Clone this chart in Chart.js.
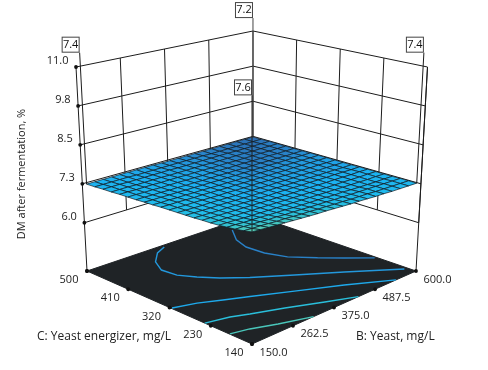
<!DOCTYPE html>
<html><head><meta charset="utf-8"><style>html,body{margin:0;padding:0;background:#fff}canvas{display:block}</style>
<script src="https://cdn.jsdelivr.net/npm/chart.js@4"></script></head><body>
<canvas id="c" width="488" height="370"></canvas>
<script>
const bTicks=[150,262.5,375,487.5,600];
const cTicks=[140,230,320,410,500];
const zTicks=[6,7.25,8.5,9.75,11];
const zTickText=['6.0','7.3','8.5','9.8','11.0'];
const zFloor=4.45, zTop=11, stemTopZ=11.46;
const bTitle='B: Yeast, mg/L', cTitle='C: Yeast energizer, mg/L', zTitle='DM after fermentation, %';
const cornerB=[150,600,150,600];
const cornerC=[500,500,140,140];
const cornerText=['7.4','7.2','7.6','7.4'];
// surface values: one row per yeast-energizer step (140..500), one column per yeast step (150..600)
const zGrid=[
[7.61,7.59,7.57,7.55,7.53,7.51,7.49,7.47,7.45,7.44,7.42,7.40,7.38,7.37,7.35,7.33,7.32,7.30,7.29,7.28,7.27],
[7.56,7.54,7.53,7.51,7.49,7.48,7.46,7.44,7.43,7.41,7.40,7.38,7.37,7.35,7.34,7.33,7.31,7.30,7.29,7.28,7.27],
[7.52,7.51,7.49,7.48,7.46,7.45,7.43,7.42,7.41,7.39,7.38,7.37,7.35,7.34,7.33,7.32,7.31,7.30,7.29,7.28,7.27],
[7.49,7.48,7.46,7.45,7.44,7.42,7.41,7.40,7.38,7.37,7.36,7.35,7.34,7.32,7.32,7.30,7.29,7.28,7.27,7.27,7.26],
[7.46,7.45,7.44,7.42,7.41,7.40,7.39,7.38,7.37,7.36,7.35,7.34,7.33,7.32,7.31,7.30,7.29,7.28,7.27,7.27,7.26],
[7.44,7.43,7.42,7.41,7.40,7.39,7.38,7.37,7.36,7.35,7.34,7.33,7.32,7.31,7.30,7.29,7.29,7.28,7.27,7.27,7.26],
[7.43,7.42,7.41,7.40,7.39,7.38,7.37,7.36,7.35,7.34,7.33,7.32,7.32,7.31,7.30,7.29,7.29,7.28,7.27,7.27,7.26],
[7.41,7.40,7.39,7.38,7.38,7.37,7.36,7.35,7.34,7.33,7.33,7.32,7.31,7.30,7.30,7.29,7.28,7.28,7.27,7.26,7.26],
[7.40,7.39,7.38,7.37,7.37,7.36,7.35,7.34,7.33,7.32,7.32,7.31,7.30,7.29,7.29,7.28,7.27,7.27,7.26,7.25,7.25],
[7.39,7.38,7.37,7.36,7.36,7.35,7.34,7.33,7.33,7.32,7.31,7.30,7.30,7.29,7.28,7.28,7.27,7.26,7.26,7.25,7.25],
[7.38,7.37,7.36,7.36,7.35,7.34,7.33,7.33,7.32,7.31,7.31,7.30,7.29,7.29,7.28,7.27,7.27,7.26,7.26,7.25,7.25],
[7.37,7.36,7.36,7.35,7.34,7.34,7.33,7.32,7.31,7.31,7.30,7.30,7.29,7.28,7.28,7.27,7.27,7.26,7.26,7.25,7.25],
[7.35,7.34,7.34,7.33,7.33,7.32,7.32,7.31,7.30,7.30,7.29,7.29,7.28,7.28,7.27,7.27,7.27,7.26,7.26,7.25,7.25],
[7.34,7.33,7.33,7.32,7.32,7.31,7.31,7.30,7.30,7.29,7.29,7.28,7.28,7.28,7.27,7.27,7.26,7.26,7.26,7.25,7.25],
[7.32,7.32,7.31,7.31,7.30,7.30,7.29,7.29,7.28,7.28,7.28,7.27,7.27,7.26,7.26,7.26,7.25,7.25,7.24,7.24,7.24],
[7.31,7.31,7.30,7.30,7.29,7.29,7.29,7.28,7.28,7.27,7.27,7.27,7.26,7.26,7.26,7.25,7.25,7.25,7.24,7.24,7.24],
[7.30,7.30,7.29,7.29,7.29,7.28,7.28,7.28,7.27,7.27,7.27,7.26,7.26,7.26,7.25,7.25,7.25,7.25,7.24,7.24,7.24],
[7.28,7.28,7.28,7.27,7.27,7.27,7.27,7.26,7.26,7.26,7.26,7.26,7.25,7.25,7.25,7.25,7.25,7.24,7.24,7.24,7.24],
[7.27,7.27,7.27,7.26,7.26,7.26,7.26,7.26,7.26,7.25,7.25,7.25,7.25,7.25,7.25,7.25,7.24,7.24,7.24,7.24,7.24],
[7.25,7.25,7.25,7.25,7.25,7.24,7.24,7.24,7.24,7.24,7.24,7.24,7.24,7.24,7.23,7.23,7.23,7.23,7.23,7.23,7.23],
[7.24,7.24,7.24,7.24,7.24,7.24,7.24,7.24,7.24,7.23,7.23,7.23,7.23,7.23,7.23,7.23,7.23,7.23,7.23,7.23,7.23]
];
// contour lines on the floor
const contourLevels=[7.26,7.29,7.32,7.46,7.55];
const contourB=[
[513,481,468,471,488,524,558,596],
[352,320,285,265,270,292,321,364,433,508,593],
[152,204,251,300,378,463,545],
[150,205,242,309,381,442],
[151,194,248,319]
];
const contourC=[
[475,440,408,370,333,296,264,228],
[494,483,459,430,400,374,347,316,273,224,160],
[316,303,284,264,229,188,140],
[243,232,218,195,165,140],
[189,180,161,140]
];
const rampZ=[7.23,7.27,7.30,7.34,7.42,7.47,7.54,7.61];
const rampRGB=[[44,111,180],[40,135,205],[33,160,228],[28,178,242],[32,188,235],[45,192,215],[70,198,190],[100,205,170]];

// view of the data cube: floor and top rectangles as seen in the picture
function project(b,c,z,inset){
  const p=(b-150)/450,q=(c-140)/360,w=(z-zFloor)/(zTop-zFloor),pq=p*q;
  const x0=252+164*p-165*q+2*pq, y0=344-73*p-73*q+17*pq;
  const x1=252+175.5*p-176*q+1.5*pq, y1=111.7-44.7*p-44.7*q+8.7*pq;
  let x=x0+(x1-x0)*w;
  if(inset) x=252+(x-252)*.975;
  return {x,y:y0+(y1-y0)*w};
}
function colorOf(z){
  let i=0; while(i<rampZ.length-2&&z>rampZ[i+1]) i++;
  const t=Math.max(0,Math.min(1,(z-rampZ[i])/(rampZ[i+1]-rampZ[i])));
  const m=rampRGB[i].map((v,k)=>Math.round(v+(rampRGB[i+1][k]-v)*t));
  return `rgb(${m[0]},${m[1]},${m[2]})`;
}
const INK='#1c1c1c', FLOOR='#1f2326';
const ds=[];
function line(pts,color,width){ds.push({data:pts,showLine:true,fill:false,borderColor:color,borderWidth:width,pointRadius:0,tension:0});}
function poly(pts,fillColor,border,width){ds.push({data:pts.concat([pts[0]]),showLine:true,fill:'shape',backgroundColor:fillColor,borderColor:border,borderWidth:width,pointRadius:0,tension:0});}

// walls
zTicks.forEach(z=>line([project(150,500,z),project(600,500,z),project(600,140,z)],INK,1));
bTicks.slice(1).forEach(b=>line([project(b,500,6),project(b,500,zTop)],INK,1));
cTicks.slice(0,4).forEach(c=>line([project(600,c,6),project(600,c,zTop)],INK,1));
line([project(150,500,zFloor),project(150,500,zTop)],INK,1);
line([project(600,140,zFloor),project(600,140,zTop)],INK,1);
// floor
poly([project(150,140,zFloor),project(600,140,zFloor),project(600,500,zFloor),project(150,500,zFloor)],FLOOR,FLOOR,1);
contourLevels.forEach((lv,k)=>line(contourB[k].map((b,i)=>project(b,contourC[k][i],zFloor)),colorOf(lv),1.4));
// surface
const nC=zGrid.length,nB=zGrid[0].length;
const bAt=i=>150+450*i/(nB-1), cAt=j=>140+360*j/(nC-1);
for(let j=nC-2;j>=0;j--)for(let i=nB-2;i>=0;i--){
  const a=zGrid[j][i],b=zGrid[j][i+1],c=zGrid[j+1][i+1],d=zGrid[j+1][i];
  const side=Math.abs((i+.5)/(nB-1)-(j+.5)/(nC-1));
  poly([project(bAt(i),cAt(j),a,1),project(bAt(i+1),cAt(j),b,1),project(bAt(i+1),cAt(j+1),c,1),project(bAt(i),cAt(j+1),d,1)],colorOf((a+b+c+d)/4+.11*side),'#0d1a24',.7);
}
// stems of the corner labels
cornerB.forEach((b,k)=>{
  const i=b===150?0:nB-1,j=cornerC[k]===140?0:nC-1;
  line([project(b,cornerC[k],zGrid[j][i],1),project(b,cornerC[k],stemTopZ,1)],k===1?'#444':INK,1);
});
// tick dots
const dots=[...zTicks.map(z=>project(150,500,z)),project(150,500,zFloor),
  ...cTicks.map(c=>project(150,c,zFloor)),...bTicks.map(b=>project(b,140,zFloor))];
ds.push({data:dots,showLine:false,pointRadius:1.9,pointBackgroundColor:'#111',pointBorderWidth:0});

const textPlugin={id:'textPlugin',afterDatasetsDraw(ch){
  const X=ch.scales.x,Y=ch.scales.y,ctx=ch.ctx;
  const px=pt=>({x:X.getPixelForValue(pt.x),y:Y.getPixelForValue(pt.y)});
  ctx.save();
  ctx.fillStyle='#222';ctx.font='11px "Open Sans"';ctx.textBaseline='middle';
  ctx.textAlign='right';
  zTicks.forEach((z,k)=>{const a=px(project(150,500,z));ctx.fillText(zTickText[k],a.x-7.5,a.y-6);});
  ctx.textAlign='center';
  cTicks.forEach(c=>{const a=px(project(150,c,zFloor));ctx.fillText(String(c),a.x-18,a.y+9);});
  bTicks.forEach(b=>{const a=px(project(b,140,zFloor));ctx.fillText(b.toFixed(1),a.x+21.5,a.y+8.5);});
  cornerB.forEach((b,k)=>{
    const a=px(project(b,cornerC[k],stemTopZ,1));
    ctx.fillStyle='#fff';ctx.fillRect(a.x-17.5,a.y-15.5,17,15);
    ctx.strokeStyle='#444';ctx.lineWidth=1;ctx.strokeRect(a.x-17.5,a.y-15.5,17,15);
    ctx.fillStyle='#111';ctx.fillText(cornerText[k],a.x-9,a.y-8);
  });
  ctx.fillStyle='#222';
  ctx.textAlign='left';
  ctx.font='12px "Open Sans"';
  ctx.fillText(cTitle,37,337);
  ctx.fillText(bTitle,356,337);
  ctx.font='11px "Open Sans"';
  ctx.translate(22,174);ctx.rotate(-Math.PI/2);ctx.textAlign='center';
  ctx.fillText(zTitle,0,0);
  ctx.restore();
}};

new Chart(document.getElementById('c'),{
  type:'scatter',
  data:{datasets:ds.slice().reverse()},
  options:{responsive:false,animation:false,events:[],layout:{padding:0,autoPadding:false},
    plugins:{legend:{display:false},tooltip:{enabled:false}},
    scales:{x:{type:'linear',min:0,max:488,display:false},y:{type:'linear',min:0,max:370,reverse:true,display:false}}},
  plugins:[textPlugin]
});
</script></body></html>
